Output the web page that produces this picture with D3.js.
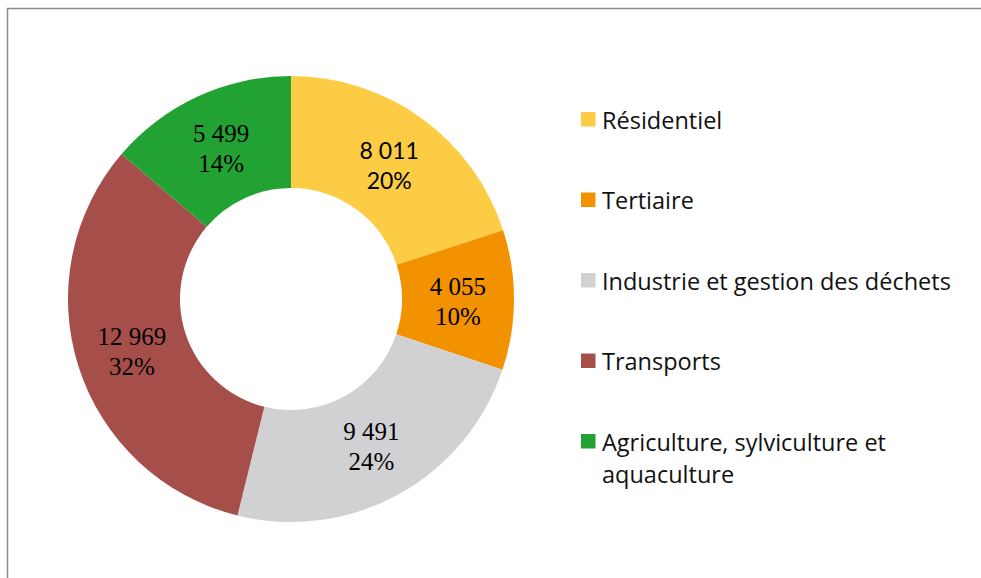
<!DOCTYPE html>
<html>
<head>
<meta charset="utf-8">
<script src="https://cdn.jsdelivr.net/npm/d3@7"></script>
<style>
  body { margin: 0; background: #fff; overflow: hidden; }
  svg { display: block; }
</style>
</head>
<body>
<svg id="chart" width="981" height="578"></svg>
<script>
// secteurs, valeurs et couleurs
const categories = ["Résidentiel", "Tertiaire", "Industrie et gestion des déchets", "Transports", "Agriculture, sylviculture et aquaculture"]
const values = [8011, 4055, 9491, 12969, 5499]
const valueLabels = ["8 011", "4 055", "9 491", "12 969", "5 499"]
const colors = ["#FDCC45", "#F39200", "#D1D1D3", "#A64F4A", "#22A232"]
// the legend wraps the last entry on two lines
const legendLines = [["Résidentiel"], ["Tertiaire"], ["Industrie et gestion des déchets"], ["Transports"], ["Agriculture, sylviculture et", "aquaculture"]]

const svg = d3.select("#chart")

// frame: only the top and left edges are visible (cropped like the original)
svg.append("path")
    .attr("d", "M7.5,578 L7.5,8.5 L981,8.5")
    .attr("fill", "none")
    .attr("stroke", "#8c8c8c")
    .attr("stroke-width", 1.5)

const cx = 291, cy = 299
const outerR = 223, innerR = 111

const total = d3.sum(values)
const data = categories.map((c, i) => ({ name: c, value: values[i], label: valueLabels[i], color: colors[i] }))

const pie = d3.pie().sort(null).value(d => d.value)
const arc = d3.arc().innerRadius(innerR).outerRadius(outerR)
const arcs = pie(data)

const g = svg.append("g").attr("transform", `translate(${cx},${cy})`)

g.selectAll("path")
    .data(arcs)
    .enter()
    .append("path")
        .attr("d", arc)
        .attr("fill", d => d.data.color)

const pct = d3.format(".0%")

const labels = g.selectAll("text.lbl")
    .data(arcs)
    .enter()
    .append("text")
        .attr("class", "lbl")
        .attr("transform", d => `translate(${arc.centroid(d)})`)
        .attr("text-anchor", "middle")
        .attr("fill", "#000")
        // the first label is in a sans font in the original
        .attr("font-family", (d, i) => i == 0 ? "Lato, 'Open Sans', sans-serif" : "'Liberation Serif', 'Times New Roman', serif")
        .attr("font-size", (d, i) => i == 0 ? "23px" : "25px")

labels.append("tspan")
    .attr("x", 0)
    .attr("y", -5)
    .text(d => d.data.label)

labels.append("tspan")
    .attr("x", 0)
    .attr("y", 25)
    .text(d => pct(d.data.value / total))

// legend
const legendX = 581, legendY0 = 112, legendStep = 80.5, sw = 14.5

const legend = svg.append("g")
    .selectAll("g")
    .data(data)
    .enter()
    .append("g")
        .attr("transform", (d, i) => `translate(${legendX},${legendY0 + i * legendStep})`)

legend.append("rect")
    .attr("width", sw)
    .attr("height", sw)
    .attr("fill", d => d.color)

legend.append("text")
    .attr("font-family", "'Open Sans', Lato, sans-serif")
    .attr("font-size", "23.5px")
    .attr("fill", "#111")
    .selectAll("tspan")
    .data((d, i) => legendLines[i])
    .enter()
    .append("tspan")
        .attr("x", 21)
        .attr("y", (d, j) => 16.5 + j * 32)
        .text(d => d)
</script>
</body>
</html>
